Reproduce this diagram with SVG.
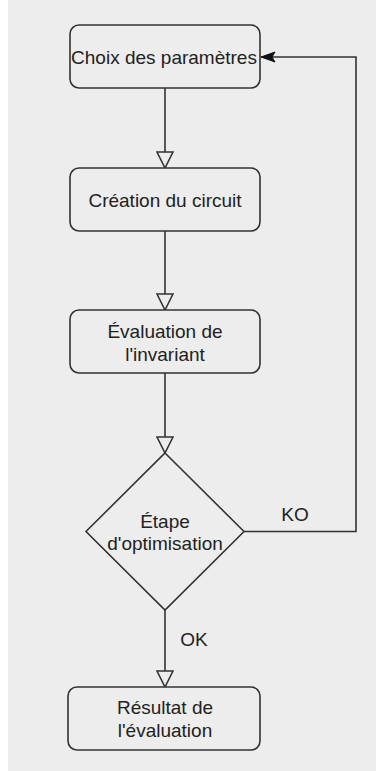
<svg xmlns="http://www.w3.org/2000/svg" width="376" height="771" viewBox="0 0 376 771">
<style>
.n{fill:#ededed;stroke:#333;stroke-width:1.6}
.t{font-family:"Liberation Sans",Arial,sans-serif;font-size:19px;fill:#222;text-anchor:middle}
.c{fill:none;stroke:#333;stroke-width:1.6}
</style>
<defs>
<marker id="open" viewBox="0 0 18 18" refX="17" refY="9" markerWidth="18" markerHeight="18" markerUnits="userSpaceOnUse" orient="auto">
<path d="M1,1 L17,9 L1,17 Z" fill="#ededed" stroke="#333" stroke-width="1.6"/>
</marker>
<marker id="block" viewBox="0 0 16 12" refX="15" refY="6" markerWidth="16" markerHeight="12" markerUnits="userSpaceOnUse" orient="auto">
<path d="M1,1 L15,6 L1,11 L4,6 Z" fill="#111" stroke="#111" stroke-width="1"/>
</marker>
</defs>
<rect x="0" y="0" width="376" height="771" fill="#ededed"/>
<rect x="0" y="0" width="8" height="771" fill="#ffffff"/>
<g id="connectors">
<line class="c" x1="165" y1="88" x2="165" y2="168" marker-end="url(#open)"/>
<line class="c" x1="165" y1="231" x2="165" y2="310" marker-end="url(#open)"/>
<line class="c" x1="165" y1="373" x2="165" y2="453" marker-end="url(#open)"/>
<line class="c" x1="165" y1="610" x2="165" y2="687" marker-end="url(#open)"/>
<polyline class="c" points="244,531.5 356,531.5 356,57 261,57" marker-end="url(#block)"/>
<text class="t" x="295" y="521">KO</text>
<text class="t" x="194" y="646">OK</text>
</g>
<g id="n1">
<rect class="n" x="70" y="25" width="190" height="63" rx="9"/>
<text class="t" x="164" y="64">Choix des paramètres</text>
</g>
<g id="n2">
<rect class="n" x="70" y="168" width="190" height="63" rx="9"/>
<text class="t" x="165" y="207">Création du circuit</text>
</g>
<g id="n3">
<rect class="n" x="70" y="310" width="190" height="63" rx="9"/>
<text class="t" x="165" y="338">Évaluation de</text>
<text class="t" x="165" y="361">l'invariant</text>
</g>
<g id="n4">
<path class="n" d="M165,453 L244,531.5 L165,610 L86,531.5 Z"/>
<text class="t" x="165" y="528">Étape</text>
<text class="t" x="165" y="550">d'optimisation</text>
</g>
<g id="n5">
<rect class="n" x="68" y="687" width="192" height="63" rx="9"/>
<text class="t" x="165" y="714">Résultat de</text>
<text class="t" x="165" y="737">l'évaluation</text>
</g>
</svg>
